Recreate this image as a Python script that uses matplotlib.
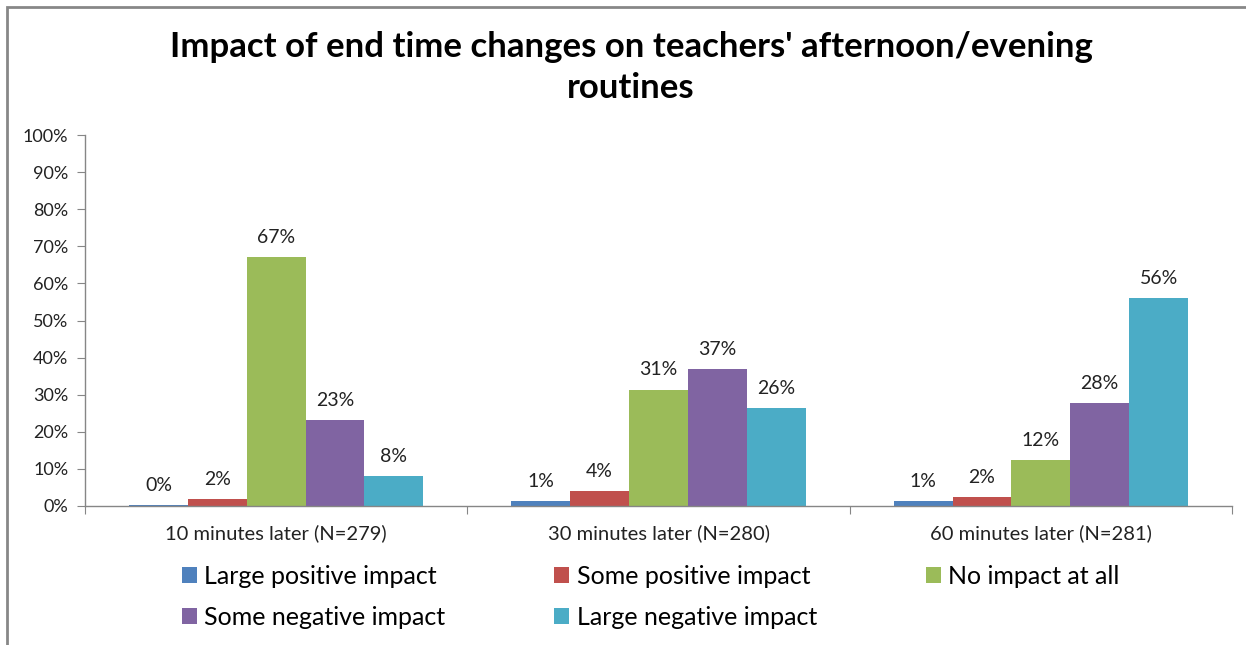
import numpy as np
import matplotlib
matplotlib.use("Agg")
import matplotlib.pyplot as plt
from matplotlib.patches import Rectangle, Patch

plt.rcParams['font.family'] = ['Lato', 'DejaVu Sans']

# -----------------------------
# Data
# -----------------------------
categories = ["10 minutes later (N=279)", "30 minutes later (N=280)", "60 minutes later (N=281)"]
series = ["Large positive impact", "Some positive impact", "No impact at all",
          "Some negative impact", "Large negative impact"]
large_pos = [0.3, 1.4, 1.4]
some_pos = [1.9, 4.0, 2.4]
no_impact = [67.1, 31.4, 12.4]
some_neg = [23.1, 36.9, 27.8]
large_neg = [8.1, 26.5, 56.1]
values = [large_pos, some_pos, no_impact, some_neg, large_neg]
colors = ["#4F81BD", "#C0504D", "#9BBB59", "#8064A2", "#4BACC6"]

# -----------------------------
# Figure
# -----------------------------
W, H = 1246, 645
fig = plt.figure(figsize=(W / 100, H / 100), dpi=100)
ax = fig.add_axes([85 / W, 1 - 506 / H, (1232 - 85) / W, (506 - 135) / H])

axis_col = "#868686"
x = np.arange(len(categories))
bw = 0.154
for i, (name, vals, c) in enumerate(zip(series, values, colors)):
    pos = x + (i - 2) * bw
    bars = ax.bar(pos, vals, width=bw, color=c, label=name, zorder=2)
    for b, v in zip(bars, vals):
        ax.annotate(f"{v:.0f}%", (b.get_x() + b.get_width() / 2, v),
                    xytext=(0, 8), textcoords="offset points",
                    ha="center", va="bottom", fontsize=14, color="#222222")

ax.set_xlim(-0.5, len(categories) - 0.5)
ax.set_ylim(0, 100)
ax.set_yticks(np.arange(0, 101, 10))
ax.set_yticklabels([f"{t}%" for t in range(0, 101, 10)], fontsize=13, color="#222222")
ax.set_xticks(np.arange(-0.5, len(categories), 1.0))
ax.set_xticklabels([])
ax.set_xticks(x, minor=True)
ax.set_xticklabels(categories, minor=True, fontsize=14.5, color="#222222")
ax.tick_params(axis="x", which="major", length=6, color=axis_col, direction="out")
ax.tick_params(axis="x", which="minor", length=0, pad=13)
ax.tick_params(axis="y", length=6, color=axis_col, pad=6)

for s in ["top", "right"]:
    ax.spines[s].set_visible(False)
for s in ["left", "bottom"]:
    ax.spines[s].set_color(axis_col)
    ax.spines[s].set_linewidth(1)

# -----------------------------
# Legend (row-major order like the original)
# -----------------------------
handles = [Patch(facecolor=c, edgecolor="none") for c in colors]
order = [0, 3, 1, 4, 2]
leg = fig.legend([handles[k] for k in order], [series[k] for k in order],
                 loc="upper left", bbox_to_anchor=(182 / W, 1 - 565 / H),
                 ncol=3, frameon=False, fontsize=18, handlelength=0.6,
                 handleheight=0.6, handletextpad=0.3, columnspacing=4.35,
                 labelspacing=0.72, borderaxespad=0, borderpad=0)

# -----------------------------
# Title and frame
# -----------------------------
fig.text(631 / W, 1 - 67.5 / H,
         "Impact of end time changes on teachers' afternoon/evening\nroutines",
         ha="center", va="center", fontsize=25, fontweight="bold",
         linespacing=1.38, color="black")

fig.patches.append(Rectangle((7 / W, -0.1), 1.2, (H - 7) / H + 0.1,
                             transform=fig.transFigure, fill=False,
                             edgecolor="#878787", linewidth=2))

fig.savefig("out.png", dpi=100)
